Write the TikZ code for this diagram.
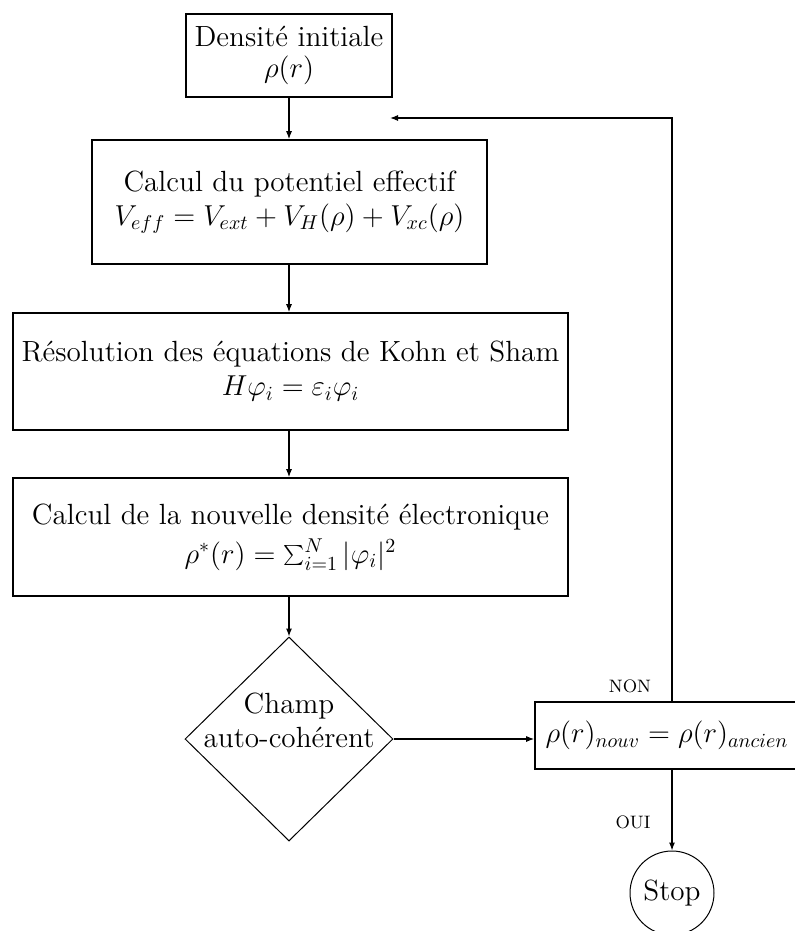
\documentclass[tikz,border=0pt]{standalone}
\usepackage{fontspec}
\usetikzlibrary{shapes.geometric,arrows.meta}
\begin{document}
\begin{tikzpicture}[x=0.5pt,y=-0.5pt,
  every node/.style={font=\fontsize{14.6}{17}\selectfont},
  box/.style={draw,line width=0.8pt,align=center,inner sep=0pt},
  arr/.style={line width=0.55pt,-{Latex[length=4pt,width=3pt]}},
  lbl/.style={font=\fontsize{9}{10}\selectfont}]
\useasboundingbox (0,0) rectangle (794,931);
\node[box,minimum width=103pt,minimum height=41.5pt,font=\fontsize{14.6}{15.5}\selectfont] (b1) at (289,55.5) {Densité initiale\\$\rho(r)$};
\node[box,minimum width=197.5pt,minimum height=62pt] (b2) at (289.5,202) {Calcul du potentiel effectif\\$V_{eff}=V_{ext}+V_H(\rho)+V_{xc}(\rho)$};
\node[box,minimum width=277.5pt,minimum height=58.5pt] (b3) at (290.5,371.5) {Résolution des équations de Kohn et Sham\\$H\varphi_i=\varepsilon_i\varphi_i$};
\node[box,minimum width=277.5pt,minimum height=59pt] (b4) at (290.5,537) {Calcul de la nouvelle densité électronique\\[2.5pt]$\rho^*(r)=\sum_{i=1}^N|\varphi_i|^2$};
\node[draw,line width=0.5pt,diamond,minimum width=104pt,minimum height=102pt,inner sep=0pt] (d) at (289,739) {};
\node[align=center] (dt) at (289,720) {Champ\\auto-cohérent};
\node[box,minimum width=136pt,minimum height=33.5pt] (b5) at (671,735.5) {\hspace*{-4pt}$\rho(r)_{nouv}=\rho(r)_{ancien}$};
\node[draw,line width=0.5pt,circle,minimum size=42pt,inner sep=0pt] (stop) at (672,893) {Stop};
\coordinate (top) at (672,118);
\coordinate (loopend) at (390,118);
\coordinate (b5t) at (672,702);
\coordinate (b5b) at (672,769);
\draw[arr] (b1.south) -- (b1.south |- b2.north);
\draw[arr] (b1.south |- b2.south) -- (b1.south |- b3.north);
\draw[arr] (b1.south |- b3.south) -- (b1.south |- b4.north);
\draw[arr] (b1.south |- b4.south) -- (d.north);
\draw[arr] (d.east) -- (d.east -| b5.west);
\draw[arr] (b5t) -- (top) -- (loopend);
\draw[arr] (b5b) -- (stop.north);
\node[lbl] (non) at (630,686) {NON};
\node[lbl] (oui) at (633,822) {OUI};
\end{tikzpicture}
\end{document}
